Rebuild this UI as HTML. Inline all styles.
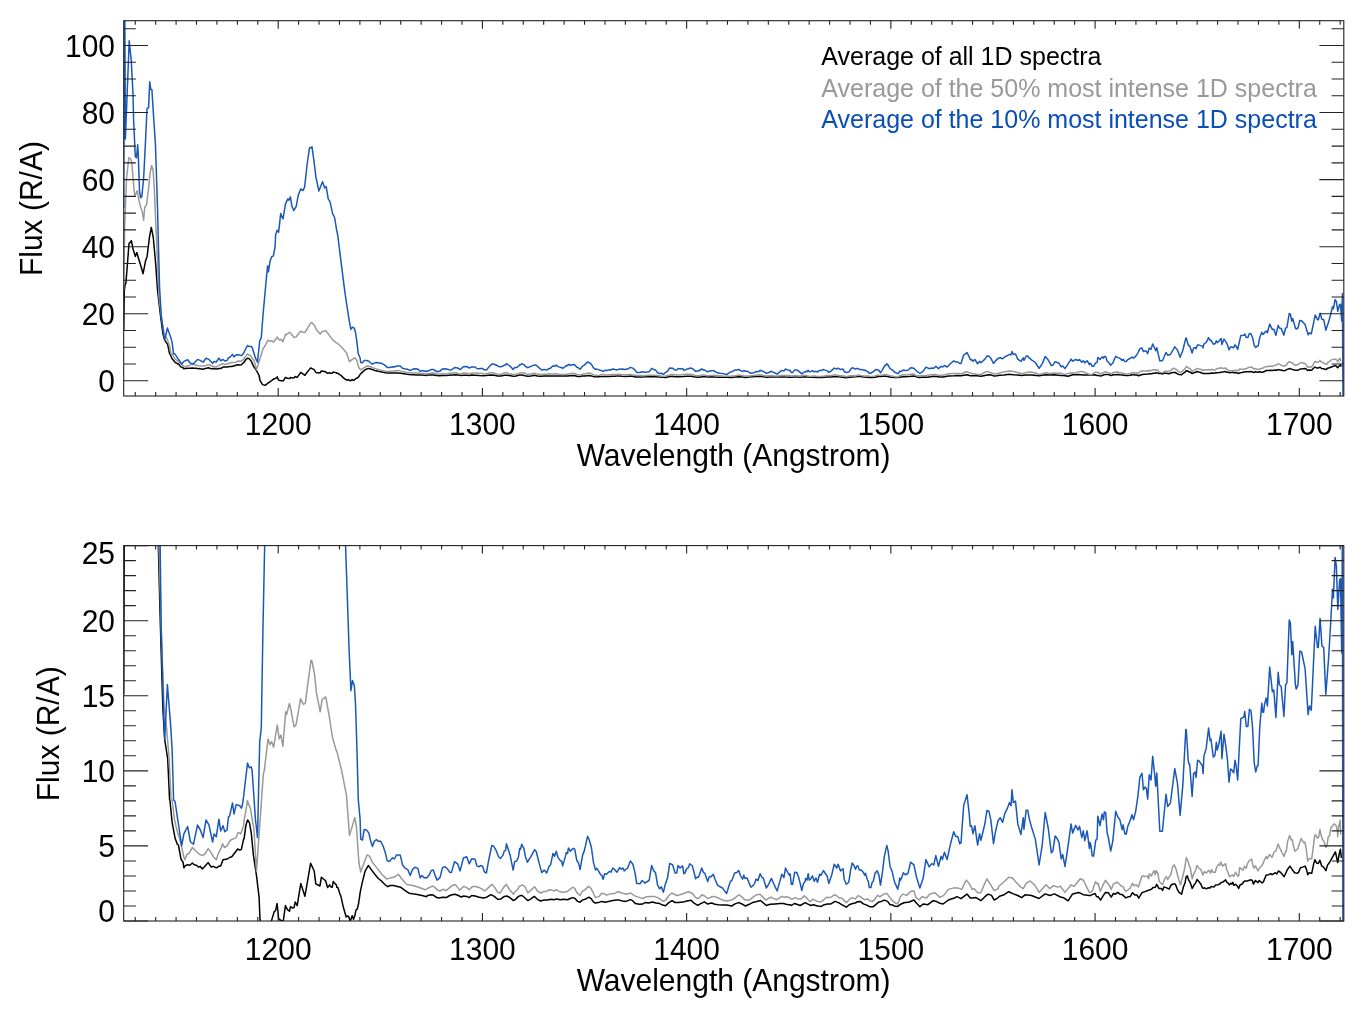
<!DOCTYPE html>
<html><head><meta charset="utf-8"><style>
html,body{margin:0;padding:0;background:#fff;}
svg{display:block;will-change:transform;}
text{font-family:"Liberation Sans",Arial,sans-serif;}
.tl{font-size:30px;fill:#000;}
.lg{font-size:25px;}
</style></head><body>
<svg width="1365" height="1018" viewBox="0 0 1365 1018">
<rect width="1365" height="1018" fill="#fff"/>
<defs><clipPath id="ct"><rect x="123.7" y="20.7" width="1220.1" height="375.3"/></clipPath><clipPath id="cb"><rect x="123.7" y="545.6" width="1220.1" height="375.4"/></clipPath></defs><g clip-path="url(#ct)" fill="none" stroke-linejoin="round"><path d="M123.7 330.2 124.3 291.0 125.1 284.7 125.9 283.1 127.4 264.3 129.0 243.8 131.4 240.7 132.9 248.6 135.3 256.4 136.8 252.5 138.4 258.0 140.8 265.8 143.1 273.7 145.5 261.1 147.1 256.4 149.4 237.6 151.3 227.4 153.3 237.6 155.7 264.3 157.5 290.0 160.4 314.9 162.9 333.7 164.7 340.2 167.7 344.6 169.6 353.8 169.9 353.8 172.1 358.7 175.1 362.3 177.3 363.7 178.4 363.8 181.0 366.9 183.2 367.8 183.9 368.9 185.4 368.4 187.6 368.3 189.8 368.3 192.4 367.9 194.2 368.3 196.4 368.3 198.6 368.8 200.1 368.6 202.3 369.2 204.5 368.7 208.2 367.8 211.2 368.8 213.4 368.6 216.3 368.9 219.3 368.5 220.7 368.5 223.0 367.1 227.4 366.9 229.6 366.6 231.8 366.5 237.7 364.7 239.9 365.0 241.4 364.8 243.6 362.5 244.1 362.4 245.8 359.5 247.3 358.4 247.7 358.2 249.5 358.9 251.3 361.2 253.4 366.1 256.5 370.7 259.1 375.5 260.0 380.4 262.5 384.6 265.0 385.4 268.4 382.9 270.9 381.2 274.2 378.7 275.6 378.5 277.1 376.9 278.7 380.3 281.2 380.7 283.3 380.8 285.4 377.4 287.4 378.3 289.5 378.6 290.5 377.6 292.6 377.9 294.1 377.8 295.2 376.5 297.2 377.4 300.8 372.4 304.9 375.3 310.6 367.9 314.2 369.6 315.8 372.5 319.9 373.0 321.4 371.0 325.6 371.8 327.6 373.3 329.7 372.7 330.0 372.9 331.2 373.2 332.2 373.3 333.2 372.0 335.4 372.6 336.4 372.7 336.8 373.3 337.9 373.3 340.0 374.8 340.8 375.2 343.5 377.9 346.2 379.9 347.6 379.7 348.9 379.9 350.0 380.8 350.8 380.5 352.2 379.6 353.5 380.4 354.9 379.6 355.9 378.4 357.3 378.1 358.6 376.9 360.3 374.2 362.4 372.1 365.1 369.7 368.3 368.4 371.3 369.3 374.8 370.4 378.3 371.3 381.9 372.0 385.4 372.8 387.8 373.1 390.1 372.9 393.7 372.9 398.4 373.1 400.8 373.3 405.5 374.1 409.0 374.6 412.5 374.7 417.3 374.9 422.0 375.1 426.7 375.4 427.5 375.1 430.0 375.0 430.4 374.9 433.3 375.0 436.7 375.6 439.2 375.7 442.5 375.5 446.3 375.6 448.8 375.2 452.1 374.9 455.1 374.8 458.4 375.1 461.3 375.5 463.4 375.2 466.7 375.3 469.2 375.6 471.7 375.1 475.1 375.2 479.3 375.5 483.4 375.7 485.9 375.6 490.9 374.9 494.3 375.3 497.6 376.0 501.0 375.9 504.3 375.3 506.8 375.2 509.3 375.5 513.5 376.2 516.0 375.9 518.5 375.3 521.0 375.1 522.1 375.1 525.0 375.7 527.9 376.2 530.9 375.9 534.2 375.3 537.5 376.0 540.5 376.3 544.2 376.1 547.5 376.1 550.9 376.0 554.2 376.0 556.7 375.9 560.1 376.0 563.4 376.0 567.6 376.0 570.1 375.8 572.6 375.6 575.1 375.8 577.6 376.4 580.1 376.6 582.2 376.1 585.1 376.0 588.9 375.5 591.4 375.9 593.0 376.4 595.1 376.8 598.5 376.7 601.8 376.4 605.1 376.6 608.5 376.4 612.7 376.2 615.0 376.2 616.8 376.1 618.7 376.1 622.3 376.3 626.0 376.4 630.4 376.0 632.6 376.3 635.5 376.9 639.2 377.1 642.8 377.0 645.0 376.7 648.7 376.7 652.4 376.6 656.0 376.7 659.7 376.9 662.6 377.2 665.5 377.4 668.5 376.7 672.1 376.3 675.1 376.7 678.7 376.7 683.1 376.6 686.8 376.3 691.2 376.2 694.1 376.8 697.8 377.3 700.7 376.9 704.4 376.5 707.3 377.0 711.7 376.8 715.0 377.1 718.3 377.2 722.5 377.3 726.7 377.3 731.7 377.4 735.0 377.0 738.8 376.7 742.6 377.1 745.5 377.4 749.2 377.1 752.6 376.7 755.9 376.5 760.5 376.2 763.4 376.8 766.3 377.3 770.1 377.1 775.1 377.0 780.1 376.9 783.5 376.9 786.0 377.1 788.5 377.2 790.1 377.2 791.4 377.3 794.3 376.9 796.8 377.1 800.2 377.3 805.2 376.7 807.5 377.0 810.8 377.3 813.3 377.2 817.5 377.4 821.3 377.5 824.2 377.2 827.5 377.0 830.9 377.0 835.1 376.4 838.4 376.7 842.6 377.3 846.3 377.7 849.2 377.2 852.6 376.9 855.1 376.8 857.6 376.5 860.5 376.5 863.4 377.0 866.8 377.3 870.1 377.6 873.0 377.6 876.0 377.1 878.5 376.6 881.4 376.4 884.3 376.1 887.6 376.4 890.1 377.2 891.8 377.2 894.3 377.4 897.7 377.5 900.0 377.2 900.6 377.1 904.0 376.7 909.3 376.6 913.9 376.1 916.6 376.9 919.9 377.6 923.2 377.0 927.9 377.2 933.2 376.3 936.5 376.4 939.8 376.9 943.1 377.0 948.4 376.1 954.4 375.7 957.0 375.4 961.0 375.8 967.0 374.8 970.3 375.7 972.9 375.7 975.6 375.5 980.9 376.3 984.9 375.4 988.2 374.8 991.5 375.1 994.2 376.1 996.8 375.8 999.6 375.3 1004.1 374.9 1008.7 374.2 1013.3 374.8 1017.8 375.1 1021.6 375.6 1025.4 374.9 1031.5 375.1 1039.1 375.8 1045.2 374.8 1049.8 375.1 1054.4 374.8 1060.4 375.4 1063.5 375.6 1068.1 376.3 1072.6 374.8 1078.7 374.4 1083.3 374.9 1089.4 375.1 1090.0 375.1 1092.2 374.9 1095.1 374.7 1096.6 375.4 1098.1 375.4 1100.6 376.1 1102.8 375.3 1105.4 374.4 1108.3 374.5 1111.2 375.5 1113.4 374.7 1115.3 374.8 1117.8 374.4 1120.0 374.8 1122.2 374.9 1125.9 375.6 1128.1 375.4 1130.3 375.3 1132.5 374.5 1134.7 375.0 1136.9 375.0 1138.7 375.7 1142.0 374.5 1144.9 374.2 1147.9 374.0 1150.1 373.8 1151.5 373.7 1153.0 373.3 1155.2 373.3 1156.7 372.6 1158.9 373.5 1161.4 373.5 1162.5 374.0 1164.0 373.2 1166.2 373.3 1169.1 373.7 1171.3 372.7 1173.5 372.5 1175.3 372.5 1177.2 373.7 1179.0 374.4 1181.6 374.8 1183.4 373.2 1185.2 372.2 1186.0 371.0 1187.1 370.7 1187.4 370.8 1188.5 371.5 1190.2 372.2 1192.2 373.5 1193.9 372.8 1195.7 372.3 1197.0 371.5 1198.8 372.0 1200.8 372.5 1202.2 373.3 1203.2 373.5 1204.6 373.4 1206.3 373.6 1208.0 373.4 1209.8 373.5 1211.5 373.1 1213.9 373.2 1215.6 372.8 1217.7 372.7 1219.4 372.6 1221.1 372.2 1222.5 372.1 1225.6 371.6 1227.0 372.2 1228.0 372.3 1229.4 372.8 1230.7 372.4 1231.8 372.5 1232.8 372.1 1233.8 372.8 1235.6 372.6 1237.3 373.0 1238.7 373.5 1240.0 372.8 1242.1 372.5 1244.2 371.9 1245.5 371.8 1247.6 371.8 1249.3 371.7 1251.0 371.6 1252.4 371.8 1253.4 372.5 1255.5 371.8 1257.9 372.2 1259.3 371.8 1262.0 372.3 1263.4 372.1 1266.2 370.5 1268.8 370.5 1270.8 370.2 1272.1 370.5 1275.4 370.0 1276.8 370.3 1278.4 369.6 1280.1 369.9 1282.0 370.3 1284.0 370.9 1285.3 370.4 1287.3 369.4 1289.9 368.5 1292.3 369.4 1294.6 370.0 1297.2 370.2 1298.5 369.9 1300.5 368.9 1302.5 368.8 1305.1 368.5 1306.4 369.2 1307.7 370.5 1309.1 370.0 1311.7 370.2 1313.7 368.0 1315.0 367.1 1316.6 367.9 1318.3 368.0 1319.9 367.2 1321.6 368.5 1323.6 368.8 1325.9 369.6 1327.5 368.3 1329.5 367.7 1332.1 366.7 1335.4 365.4 1337.7 367.7 1339.1 366.0 1340.4 364.8 1341.4 366.7" stroke="#000" stroke-width="1.5"/><path d="M123.7 290.0 124.7 226.0 126.5 179.0 128.8 157.7 130.6 158.9 131.8 162.5 133.6 184.9 134.7 195.5 135.9 194.3 137.1 190.8 137.7 193.1 138.9 200.2 140.6 207.3 142.4 212.0 143.6 220.2 144.8 207.3 146.5 204.9 148.3 190.8 150.1 173.1 151.6 165.4 153.0 169.5 154.2 186.0 155.4 214.3 156.6 240.0 158.5 285.0 159.0 297.0 161.5 318.1 164.0 332.6 166.7 338.0 169.2 344.6 171.1 353.8 172.1 353.8 174.3 357.9 176.5 360.2 179.5 362.3 181.7 364.3 183.9 366.6 185.0 367.1 186.8 366.0 189.1 365.6 192.4 364.4 195.7 365.1 198.6 365.8 201.6 366.1 204.5 366.0 208.2 364.6 210.4 365.3 213.4 366.5 216.3 367.1 218.5 365.6 221.5 364.3 222.6 363.6 224.4 364.4 227.4 364.0 230.3 362.7 236.2 362.2 238.1 361.0 240.0 361.2 240.6 361.4 243.6 359.5 244.1 358.2 245.8 356.2 247.5 353.9 248.0 354.4 250.3 355.5 254.0 360.5 256.5 369.7 260.1 358.2 263.3 348.0 264.3 347.2 268.0 340.1 269.9 341.4 271.7 340.8 273.6 342.0 277.3 337.0 279.2 340.1 281.0 339.3 282.9 341.8 285.7 334.1 286.6 334.7 289.4 332.2 290.4 333.1 294.1 337.4 296.0 337.0 300.6 331.2 303.4 332.4 305.3 332.2 310.9 322.6 311.8 322.6 314.6 325.8 316.5 329.9 320.2 334.1 322.1 331.4 325.8 330.8 329.6 335.6 332.4 339.7 336.1 342.6 337.0 343.0 341.5 347.0 346.5 352.7 349.5 361.7 354.8 357.7 356.5 359.8 358.9 367.7 360.7 369.9 364.2 367.7 367.1 366.0 369.5 366.3 372.5 367.7 377.2 369.1 381.9 370.4 386.6 371.4 390.1 371.2 393.7 371.0 398.4 370.4 401.9 371.4 406.7 372.6 412.5 372.9 417.3 373.1 422.0 373.5 425.0 373.8 426.7 373.7 427.5 373.5 430.0 373.3 432.5 373.0 435.0 373.3 437.5 373.9 440.0 374.1 442.9 373.7 446.3 374.0 448.8 373.5 451.7 373.0 453.8 372.7 455.9 372.8 459.6 373.9 463.8 373.1 466.7 373.3 469.2 373.8 472.6 373.1 475.1 373.1 478.4 373.3 481.8 373.6 484.7 374.1 488.4 373.3 491.8 372.6 494.3 373.2 497.6 374.4 500.1 374.6 503.5 373.3 506.4 372.6 509.3 373.7 513.5 374.8 514.7 374.4 517.7 373.7 519.3 373.1 521.8 372.8 522.5 372.8 525.0 373.2 527.9 374.6 530.9 373.9 534.6 373.2 537.5 374.1 540.9 374.6 544.2 374.2 546.7 374.2 549.2 373.8 551.7 373.9 554.2 374.1 555.9 373.8 559.2 374.2 562.6 374.4 566.7 374.3 570.1 373.7 572.6 373.3 574.7 373.5 576.8 374.5 580.1 375.1 582.6 374.1 584.7 373.9 588.4 373.1 591.0 373.5 593.5 374.6 595.5 375.6 599.3 375.3 601.4 374.6 603.5 374.6 606.8 375.0 610.2 374.7 613.5 374.6 615.0 374.6 616.8 374.4 618.3 374.3 621.7 374.6 626.7 374.8 630.4 374.6 632.9 374.9 635.9 375.3 640.0 375.6 643.0 375.8 645.9 375.4 650.1 375.3 654.2 375.3 657.6 375.6 660.5 376.0 663.4 376.4 665.9 376.1 668.4 375.2 671.8 374.6 674.3 374.8 676.8 375.1 680.1 374.9 683.4 374.6 688.5 374.3 692.6 374.6 695.1 375.5 697.6 375.8 699.7 375.6 701.8 374.9 704.7 375.2 707.7 375.8 710.0 375.6 711.8 375.4 714.2 375.3 718.3 375.7 722.5 376.1 726.7 376.3 731.7 376.1 735.0 375.7 738.8 374.9 741.7 375.4 745.1 376.1 749.2 376.1 753.4 375.4 756.7 374.9 760.1 374.8 763.4 375.6 765.9 376.1 768.4 375.8 770.9 375.5 773.4 375.8 776.8 376.0 779.3 375.7 781.8 375.3 784.3 375.5 786.8 375.4 789.3 375.6 791.8 376.0 795.1 375.6 798.5 375.9 801.0 375.9 804.3 375.2 806.7 375.7 809.2 376.3 810.8 376.4 812.5 376.0 815.0 376.1 817.5 376.4 820.9 376.5 824.2 376.0 826.7 375.5 829.2 375.6 831.3 375.5 834.2 374.9 836.3 375.1 839.2 375.7 841.7 375.7 843.8 376.1 846.3 376.7 849.2 376.0 852.2 375.6 855.1 375.9 858.4 375.1 860.9 375.5 864.3 376.0 867.6 375.9 870.1 376.3 872.6 376.4 875.1 375.9 877.6 375.0 879.7 375.4 883.5 374.8 886.8 374.6 889.3 375.4 891.8 376.1 895.2 376.8 897.7 377.0 900.0 375.5 902.7 374.8 906.6 375.1 910.6 374.2 913.9 374.0 915.9 375.5 919.2 376.1 921.9 375.4 926.5 375.7 929.8 374.8 935.1 374.5 939.8 375.5 943.8 375.1 948.4 373.7 953.1 373.5 958.4 373.5 961.7 373.7 966.3 371.7 969.0 372.4 972.3 373.7 974.3 373.6 977.6 374.5 980.9 374.5 983.6 373.0 986.9 371.4 991.5 373.0 994.2 374.0 998.1 373.6 998.8 373.1 1004.1 372.0 1008.7 371.0 1012.5 371.2 1016.3 372.2 1020.9 373.2 1023.2 373.6 1026.2 372.4 1030.0 371.9 1034.6 372.7 1039.1 374.4 1046.0 372.7 1049.8 373.6 1053.6 372.9 1057.4 373.2 1060.4 373.1 1065.0 374.4 1071.1 372.7 1074.1 373.1 1080.2 371.4 1083.3 371.7 1087.1 373.4 1089.4 374.4 1090.0 374.5 1092.2 374.2 1095.5 372.0 1097.3 372.5 1098.1 372.4 1100.3 374.2 1103.2 372.7 1105.4 371.7 1107.6 372.4 1109.4 372.9 1111.2 373.8 1113.4 372.5 1117.1 372.1 1119.3 372.5 1121.5 373.0 1123.3 373.2 1125.5 374.2 1128.1 373.8 1130.3 373.4 1132.5 372.4 1134.0 372.9 1136.2 372.7 1138.4 373.2 1142.0 370.7 1144.9 370.9 1147.1 370.7 1148.6 371.4 1149.3 370.2 1151.5 370.7 1153.4 369.7 1154.5 369.6 1155.2 370.5 1156.3 369.6 1157.8 370.1 1159.2 371.9 1160.7 372.4 1162.5 372.7 1164.7 371.4 1166.2 370.9 1167.7 371.5 1169.1 371.0 1170.6 370.6 1172.8 368.6 1174.2 368.3 1176.1 369.3 1177.9 370.9 1180.5 372.7 1182.3 371.2 1184.5 369.3 1186.3 366.6 1187.8 367.3 1188.2 367.6 1189.1 368.4 1190.2 368.8 1192.2 371.4 1193.6 370.4 1195.7 369.5 1197.0 368.4 1198.8 369.0 1200.8 369.3 1202.9 370.5 1204.3 369.8 1206.3 370.1 1208.7 369.5 1210.5 370.1 1211.5 369.3 1212.9 369.9 1215.3 369.9 1216.3 369.0 1218.7 368.1 1219.7 368.4 1220.8 367.6 1222.5 368.5 1225.6 368.0 1226.6 369.3 1228.0 369.9 1229.4 370.9 1232.5 370.5 1233.8 370.8 1235.6 369.9 1238.0 370.8 1238.7 370.7 1239.7 368.8 1241.4 369.2 1243.1 369.5 1244.5 368.5 1246.2 369.0 1247.6 367.9 1249.3 367.3 1251.7 367.0 1253.1 368.5 1254.1 369.0 1255.5 368.5 1257.9 369.6 1259.6 369.0 1262.3 368.3 1263.4 367.8 1263.9 367.4 1266.2 366.4 1267.2 366.9 1269.5 366.0 1272.1 366.6 1274.1 365.4 1276.1 365.2 1278.1 363.6 1280.1 364.6 1282.0 365.5 1284.0 366.4 1285.7 365.2 1286.3 365.2 1287.6 363.0 1289.6 361.7 1291.3 362.7 1292.3 362.7 1293.2 363.8 1294.9 365.2 1297.9 364.6 1299.2 363.6 1301.2 362.4 1303.5 363.3 1304.8 363.2 1306.1 364.5 1307.7 367.4 1309.1 366.8 1311.7 366.9 1313.0 364.8 1314.7 361.7 1315.7 361.5 1317.3 362.3 1318.6 362.1 1319.9 360.4 1320.9 361.5 1322.6 362.6 1323.9 363.0 1325.9 364.3 1326.9 364.1 1328.2 362.0 1329.5 361.8 1330.8 360.1 1334.1 359.1 1336.1 359.5 1337.4 360.7 1337.7 362.0 1338.4 360.1 1340.1 358.3 1340.7 361.5" stroke="#999" stroke-width="1.5"/><path d="M123.7 208.0 124.3 15.0 124.8 15.0 125.4 139.0 129.2 40.7 131.3 61.2 133.0 93.6 133.6 120.0 134.7 143.6 135.3 156.6 136.5 157.7 137.7 144.8 138.3 155.4 139.5 190.8 140.6 197.8 141.8 196.7 143.6 179.0 145.4 143.6 146.5 120.0 147.0 108.7 148.6 107.6 149.7 81.7 150.8 89.3 151.9 89.8 153.5 115.2 155.4 143.6 156.6 179.0 157.7 214.3 158.3 240.0 159.6 287.8 161.2 314.9 163.5 333.7 164.7 340.2 167.4 328.0 170.6 336.9 172.1 342.4 173.6 353.8 175.1 354.1 177.3 357.6 179.5 360.7 181.7 364.0 183.9 361.4 187.6 359.7 190.5 363.2 193.5 363.7 197.5 359.4 200.1 360.4 203.1 362.2 206.0 358.2 209.0 359.4 212.6 363.2 214.1 361.4 216.3 362.0 218.9 358.1 220.7 360.7 223.0 359.5 224.8 360.9 227.0 360.5 228.5 357.6 229.6 357.4 232.5 354.4 234.0 356.9 236.2 354.8 240.0 355.1 241.4 355.6 241.9 355.3 243.2 353.8 247.5 345.5 249.3 346.6 251.2 346.4 252.1 347.2 255.5 358.2 257.5 362.2 259.7 340.8 261.3 337.6 262.9 316.2 263.3 311.8 265.9 283.5 267.6 265.9 268.4 271.8 270.1 260.9 271.7 256.7 273.4 255.9 275.1 246.7 275.6 235.0 277.1 230.3 278.6 232.3 280.7 213.6 283.0 219.0 285.5 203.8 287.9 198.9 288.9 200.3 290.4 196.9 291.8 205.7 293.8 210.6 296.3 206.2 298.2 195.4 300.7 189.0 303.1 190.5 304.6 187.1 307.1 164.5 309.5 147.8 311.0 147.8 312.0 146.8 313.9 160.5 315.9 177.2 318.9 191.0 320.8 186.1 322.6 181.7 324.7 188.0 326.2 186.6 328.2 198.9 330.1 201.8 332.6 213.6 334.6 217.5 336.5 229.3 337.7 235.0 340.2 255.1 342.7 275.1 345.3 295.2 349.1 320.2 350.9 329.4 352.5 327.1 354.3 328.2 355.5 332.2 356.8 341.3 358.3 353.8 360.1 358.0 360.7 362.5 362.4 362.7 364.2 360.4 366.6 360.5 368.9 361.2 370.7 363.0 372.5 364.2 374.2 363.0 376.6 362.6 378.3 363.0 380.7 363.0 383.1 364.1 385.4 365.6 387.2 367.4 389.6 367.5 392.5 366.7 394.3 367.0 396.6 366.0 400.2 366.0 402.5 368.3 405.5 369.1 407.8 369.3 410.2 370.6 412.5 369.3 414.9 368.8 417.9 369.1 420.2 371.2 422.0 370.6 424.3 371.2 425.0 371.1 426.7 371.2 429.2 370.5 430.0 370.1 431.3 369.5 433.3 369.4 435.0 370.5 437.1 371.7 440.0 371.1 442.5 368.9 445.0 368.7 447.5 369.2 449.6 369.9 451.3 370.0 454.6 367.6 457.6 368.0 460.1 369.6 463.4 366.7 466.7 366.4 469.2 368.0 471.7 366.9 475.1 367.0 476.8 368.5 479.3 368.7 480.5 368.4 482.6 368.6 484.3 369.8 486.4 370.1 488.4 367.6 491.8 363.9 493.4 364.0 496.0 365.0 498.5 366.4 500.5 366.8 503.0 366.1 504.3 365.1 505.6 365.1 506.4 363.6 508.5 365.0 510.1 366.1 513.1 369.4 514.7 367.6 516.8 367.4 518.5 366.4 519.7 364.6 520.0 364.6 520.6 364.8 521.7 363.7 523.3 364.4 523.9 364.6 525.4 366.4 527.5 367.7 530.9 366.4 534.6 364.9 536.3 365.3 539.2 367.9 541.7 370.0 544.2 369.4 546.7 370.1 549.2 368.5 550.5 368.3 553.0 365.7 554.6 366.4 556.3 365.2 558.0 366.6 560.5 367.4 561.7 367.4 562.6 368.5 565.1 366.6 566.3 365.5 567.6 365.7 568.4 364.5 570.5 365.2 571.3 365.0 573.4 364.6 574.7 364.8 576.8 367.3 578.4 367.8 580.1 369.3 582.6 366.1 584.3 365.1 587.6 361.9 589.3 362.7 591.4 364.4 593.5 367.8 595.5 369.4 596.8 369.1 598.5 369.6 600.6 370.5 601.8 370.5 603.1 371.5 604.7 370.3 606.4 370.4 608.5 369.9 610.2 369.7 611.0 369.9 612.7 369.0 614.3 369.2 615.0 369.4 617.1 369.9 619.6 368.9 621.3 369.2 622.9 369.0 624.2 369.6 625.9 369.2 627.5 369.1 628.8 368.3 630.4 367.4 632.9 368.1 635.0 370.0 636.7 372.4 638.4 372.4 640.0 372.5 642.1 371.8 644.6 372.3 647.1 372.0 649.2 371.7 651.7 368.4 653.8 369.6 655.5 370.0 657.6 372.8 659.7 373.6 661.3 373.2 663.4 374.4 665.1 372.8 667.6 371.1 669.7 367.9 672.6 368.2 675.1 370.1 676.8 370.1 678.0 368.4 680.1 369.0 682.6 368.5 683.9 370.3 685.1 370.0 686.8 369.1 688.5 368.9 689.7 368.0 692.2 368.4 693.9 369.8 695.6 371.4 696.8 371.0 698.5 371.0 701.8 369.0 703.5 370.0 704.7 370.1 707.7 371.9 709.3 370.9 711.0 370.9 711.7 370.7 713.1 370.5 713.3 370.4 715.0 371.5 717.5 372.8 720.0 373.2 722.5 373.4 724.6 374.1 726.7 374.6 728.4 373.3 730.5 371.9 732.1 371.7 734.6 370.1 736.7 370.0 738.8 369.5 740.5 370.6 742.6 371.5 743.8 370.5 745.1 371.3 747.1 371.2 749.2 372.4 750.9 373.2 753.4 372.8 754.7 372.4 755.9 371.5 758.0 371.8 760.1 370.3 761.8 371.0 763.4 371.3 766.3 373.4 768.8 372.5 771.4 371.3 773.4 372.3 775.5 373.3 777.2 374.1 779.3 372.4 781.8 370.4 783.9 371.1 785.5 369.0 787.6 369.9 789.3 370.5 790.1 370.3 791.4 372.6 792.6 372.6 794.7 369.9 796.8 370.0 798.5 370.9 800.2 372.4 801.8 374.0 803.5 372.4 805.0 372.0 805.6 371.3 806.3 371.4 806.8 371.7 807.1 371.7 808.1 370.3 808.3 370.3 809.2 371.7 810.8 371.4 812.5 370.7 814.2 371.9 815.9 371.2 817.5 372.1 819.6 370.4 820.9 370.6 823.4 369.5 825.0 370.1 827.1 370.7 828.8 372.4 831.7 370.5 834.2 368.1 836.7 369.0 838.0 368.1 839.2 368.8 840.5 369.6 843.0 369.1 844.2 371.5 846.3 372.6 848.8 372.1 850.5 369.6 852.2 367.8 853.8 368.3 855.5 369.2 856.8 368.5 858.0 368.5 859.3 369.4 861.3 369.4 863.4 370.0 864.7 370.5 865.5 370.2 867.2 371.5 868.4 372.0 869.3 373.3 870.9 373.3 872.2 372.1 873.4 371.8 875.1 370.1 877.2 369.6 878.9 370.5 880.5 372.8 882.6 369.6 884.3 366.4 886.8 363.9 888.1 365.1 890.1 368.7 892.2 369.8 893.5 371.1 894.7 372.2 896.0 372.8 897.7 373.7 898.9 372.6 899.7 371.2 900.0 371.8 901.4 371.3 903.3 370.0 905.3 370.5 908.0 370.2 910.6 367.7 913.9 368.3 916.6 371.1 919.9 373.5 923.2 371.2 925.9 367.1 929.2 368.7 931.8 368.0 933.8 368.3 935.8 366.2 938.5 368.6 941.1 366.3 942.4 367.1 944.4 365.5 947.1 367.1 950.4 363.7 953.7 360.9 955.7 361.9 957.7 361.9 959.7 363.5 961.0 363.4 963.7 354.9 965.0 354.1 967.0 352.6 969.0 356.4 970.3 359.7 971.6 359.5 972.9 361.3 974.9 359.5 977.6 363.8 979.6 361.3 980.9 362.8 984.9 359.1 986.9 356.1 988.9 356.3 990.8 358.2 993.5 363.5 995.5 360.9 997.3 359.1 998.1 358.3 1000.3 357.8 1002.6 358.8 1004.9 356.7 1007.2 355.7 1009.5 354.4 1011.0 355.0 1012.0 351.5 1013.3 354.4 1015.5 354.0 1017.8 359.1 1020.9 361.5 1023.2 357.8 1023.9 360.3 1026.2 356.1 1027.7 356.1 1029.2 357.9 1031.5 359.8 1035.3 362.5 1039.1 368.3 1042.2 363.9 1045.2 356.6 1048.3 360.1 1051.3 365.6 1052.8 365.2 1055.1 361.8 1056.6 362.2 1058.9 363.2 1061.2 366.9 1062.7 365.9 1065.0 368.6 1067.3 365.2 1071.1 359.1 1072.6 361.2 1075.7 359.5 1078.0 360.5 1079.5 359.6 1081.8 362.2 1083.3 360.7 1084.8 362.9 1087.1 360.7 1089.4 364.6 1090.0 363.3 1090.9 363.9 1092.1 366.2 1092.4 366.3 1093.6 366.3 1095.7 362.8 1097.1 362.5 1097.8 357.4 1100.0 359.5 1102.1 356.9 1103.5 358.2 1104.3 356.4 1105.7 356.6 1107.1 361.1 1108.5 362.3 1110.7 365.2 1112.8 363.0 1115.7 356.3 1117.8 357.6 1119.9 358.2 1122.1 360.4 1123.1 359.3 1124.9 361.4 1126.3 361.4 1127.8 359.6 1129.9 358.5 1132.0 357.1 1133.5 358.2 1135.6 356.4 1137.7 353.3 1139.9 348.6 1142.0 347.9 1143.4 351.5 1144.9 350.9 1146.3 351.2 1147.7 353.6 1149.2 348.1 1151.0 349.3 1152.7 344.0 1154.5 347.8 1155.7 350.7 1156.8 347.8 1159.8 360.8 1162.4 360.8 1166.0 352.5 1167.7 355.2 1170.4 354.5 1174.8 346.8 1177.5 350.1 1180.1 357.2 1182.8 350.5 1185.8 338.1 1186.3 338.1 1188.1 344.7 1188.9 345.8 1189.7 345.8 1192.1 353.0 1193.6 347.9 1195.2 347.5 1196.0 348.8 1197.6 344.9 1199.1 345.1 1200.7 345.6 1202.3 346.1 1203.1 347.9 1203.9 344.0 1206.2 342.3 1208.6 337.7 1210.1 340.5 1210.9 340.2 1213.3 344.2 1214.9 343.8 1216.4 340.9 1217.2 342.6 1218.8 341.4 1221.1 338.4 1221.9 344.6 1224.0 339.1 1225.9 341.9 1227.4 344.7 1229.0 349.8 1230.6 346.8 1232.2 347.2 1233.7 347.7 1235.0 344.9 1236.1 346.1 1237.7 349.3 1239.2 342.6 1240.8 335.6 1243.9 335.3 1244.7 334.0 1246.3 337.4 1247.9 337.4 1249.4 333.5 1251.0 333.8 1252.6 337.7 1254.2 345.4 1255.7 347.5 1257.3 346.1 1258.1 346.1 1259.7 337.7 1261.8 332.2 1262.7 334.2 1263.6 334.2 1264.4 332.6 1266.2 331.0 1267.4 332.8 1269.7 324.1 1272.4 329.6 1273.8 329.2 1275.9 335.3 1278.2 325.3 1279.4 328.0 1281.2 328.4 1283.9 335.1 1285.6 328.0 1286.9 327.6 1289.2 313.6 1290.4 314.2 1291.8 321.3 1292.7 318.4 1295.4 328.0 1296.2 329.0 1298.0 328.0 1299.8 320.5 1301.6 320.7 1305.1 324.5 1308.1 334.7 1309.5 332.8 1311.3 333.8 1315.2 315.0 1317.5 319.7 1318.3 319.7 1320.1 313.2 1321.9 319.3 1323.7 319.7 1325.8 330.2 1328.6 322.1 1330.7 314.2 1332.5 306.7 1333.4 308.7 1335.1 299.6 1336.4 301.6 1337.8 311.3 1339.6 304.7 1340.5 304.3 1341.7 320.9 1342.4 293.6 1343.1 421.0" stroke="#1a58b8" stroke-width="1.5"/></g><g clip-path="url(#cb)" fill="none" stroke-linejoin="round"><path d="M123.7 694.4 124.3 518.8 125.1 490.6 125.9 483.5 127.4 399.3 129.0 307.5 131.4 293.6 132.9 329.0 135.3 363.9 136.8 346.4 138.4 371.1 140.8 406.0 143.1 441.4 145.5 384.9 147.1 363.9 149.4 279.7 151.3 234.0 153.3 279.7 155.7 399.3 157.5 514.4 160.4 626.0 162.9 710.0 164.7 739.3 167.7 759.0 169.6 800.0 169.9 800.0 172.1 822.1 175.1 838.3 177.3 844.2 178.4 845.0 181.0 859.0 183.2 862.6 183.9 867.8 185.4 865.6 187.6 864.8 189.8 865.2 192.4 863.0 194.2 864.8 196.4 865.2 198.6 867.1 200.1 866.3 202.3 868.9 204.5 866.7 208.2 862.6 211.2 867.1 213.4 866.3 216.3 867.8 219.3 866.0 220.7 866.0 223.0 859.7 227.4 859.0 229.6 857.5 231.8 856.7 237.7 849.0 239.9 850.1 241.4 849.4 243.6 839.1 244.1 838.6 245.8 825.8 247.3 820.6 247.7 820.0 249.5 822.8 251.3 833.4 253.4 855.1 256.5 875.7 259.1 897.3 260.0 919.2 262.5 938.0 265.0 941.6 268.4 930.4 270.9 922.8 274.2 911.6 275.6 910.7 277.1 903.5 278.7 919.0 281.2 920.5 283.3 921.0 285.4 905.6 287.4 909.7 289.5 911.2 290.5 906.6 292.6 908.1 294.1 907.6 295.2 902.0 297.2 905.6 300.8 883.4 304.9 896.3 310.6 863.3 314.2 871.0 315.8 883.9 319.9 886.0 321.4 877.2 325.6 880.8 327.6 887.5 329.7 884.9 330.0 885.7 331.2 887.0 332.2 887.3 333.2 881.6 335.4 884.1 336.4 884.9 336.8 887.3 337.9 887.5 340.0 894.2 340.8 895.9 343.5 907.8 346.2 917.0 347.6 915.9 348.9 917.0 350.0 920.8 350.8 919.7 352.2 915.7 353.5 919.2 354.9 915.4 355.9 910.3 357.3 908.9 358.6 903.5 360.3 891.6 362.4 881.9 365.1 871.1 368.3 865.5 371.3 869.6 374.8 874.3 378.3 878.5 381.9 881.4 385.4 885.0 387.8 886.7 390.1 885.5 393.7 885.5 398.4 886.7 400.8 887.3 405.5 890.8 409.0 893.2 412.5 893.8 417.3 894.4 422.0 895.6 426.7 896.7 427.5 895.5 430.0 895.0 430.4 894.7 433.3 895.1 436.7 897.6 439.2 898.0 442.5 897.2 446.3 897.6 448.8 896.0 452.1 894.7 455.1 894.3 458.4 895.5 461.3 897.2 463.4 896.0 466.7 896.4 469.2 897.6 471.7 895.5 475.1 896.0 479.3 897.2 483.4 898.0 485.9 897.6 490.9 894.7 494.3 896.4 497.6 899.3 501.0 898.9 504.3 896.4 506.8 896.0 509.3 897.2 513.5 900.6 516.0 898.9 518.5 896.4 521.0 895.5 522.1 895.5 525.0 898.0 527.9 900.6 530.9 898.9 534.2 896.4 537.5 899.3 540.5 901.0 544.2 900.1 547.5 900.1 550.9 899.3 554.2 899.7 556.7 898.9 560.1 899.7 563.4 899.3 567.6 899.7 570.1 898.5 572.6 897.6 575.1 898.5 577.6 901.4 580.1 902.2 582.2 900.1 585.1 899.3 588.9 897.2 591.4 898.9 593.0 901.4 595.1 903.1 598.5 902.6 601.8 901.4 605.1 902.2 608.5 901.4 612.7 900.6 615.0 900.3 616.8 900.1 618.7 899.9 622.3 901.0 626.0 901.4 630.4 899.6 632.6 900.7 635.5 903.6 639.2 904.3 642.8 904.0 645.0 902.5 648.7 902.9 652.4 902.1 656.0 902.9 659.7 903.6 662.6 905.1 665.5 905.8 668.5 902.9 672.1 900.7 675.1 902.5 678.7 902.5 683.1 902.1 686.8 901.0 691.2 900.3 694.1 903.2 697.8 905.4 700.7 903.6 704.4 901.8 707.3 904.0 711.7 903.0 715.0 904.3 718.3 904.7 722.5 905.1 726.7 905.1 731.7 906.0 735.0 903.9 738.8 902.6 742.6 904.3 745.5 906.0 749.2 904.3 752.6 902.6 755.9 901.8 760.5 900.5 763.4 903.0 766.3 905.5 770.1 904.3 775.1 903.9 780.1 903.5 783.5 903.5 786.0 904.3 788.5 904.7 790.1 904.7 791.4 905.5 794.3 903.5 796.8 904.3 800.2 905.5 805.2 902.6 807.5 903.9 810.8 905.5 813.3 904.7 817.5 906.0 821.3 906.4 824.2 904.7 827.5 903.9 830.9 903.9 835.1 901.4 838.4 902.6 842.6 905.1 846.3 907.2 849.2 904.7 852.6 903.5 855.1 903.0 857.6 901.8 860.5 901.6 863.4 903.9 866.8 905.1 870.1 906.8 873.0 906.8 876.0 904.3 878.5 902.2 881.4 901.4 884.3 900.1 887.6 901.4 890.1 904.7 891.8 904.7 894.3 906.0 897.7 906.4 900.0 904.7 900.6 904.3 904.0 902.7 909.3 902.0 913.9 900.0 916.6 903.3 919.9 906.7 923.2 904.0 927.9 904.7 933.2 900.7 936.5 901.4 939.8 903.3 943.1 904.0 948.4 900.0 954.4 898.0 957.0 896.7 961.0 898.7 967.0 894.1 970.3 898.0 972.9 898.0 975.6 897.4 980.9 900.7 984.9 896.7 988.2 894.1 991.5 895.4 994.2 900.0 996.8 898.7 999.6 896.2 1004.1 894.7 1008.7 891.7 1013.3 893.9 1017.8 895.5 1021.6 897.7 1025.4 894.7 1031.5 895.5 1039.1 898.5 1045.2 893.9 1049.8 895.5 1054.4 893.9 1060.4 897.0 1063.5 897.7 1068.1 900.8 1072.6 893.9 1078.7 892.4 1083.3 894.7 1089.4 895.5 1090.0 895.7 1092.2 894.6 1095.1 893.5 1096.6 896.8 1098.1 896.8 1100.6 900.1 1102.8 896.4 1105.4 892.4 1108.3 892.7 1111.2 897.1 1113.4 893.5 1115.3 894.2 1117.8 892.4 1120.0 894.2 1122.2 894.6 1125.9 897.9 1128.1 896.8 1130.3 896.4 1132.5 892.7 1134.7 894.9 1136.9 894.9 1138.7 898.2 1142.0 892.7 1144.9 891.6 1147.9 890.5 1150.1 889.8 1151.5 889.1 1153.0 887.6 1155.2 887.3 1156.7 884.3 1158.9 888.4 1161.4 888.4 1162.5 890.5 1164.0 886.9 1166.2 887.6 1169.1 889.1 1171.3 884.7 1173.5 884.0 1175.3 884.0 1177.2 889.1 1179.0 892.4 1181.6 894.2 1183.4 886.9 1185.2 882.5 1186.0 877.1 1187.1 875.9 1187.4 876.4 1188.5 879.6 1190.2 882.6 1192.2 888.4 1193.9 885.3 1195.7 882.9 1197.0 879.5 1198.8 881.6 1200.8 884.0 1202.2 887.4 1203.2 888.4 1204.6 887.8 1206.3 888.8 1208.0 887.8 1209.8 888.1 1211.5 886.4 1213.9 887.1 1215.6 885.0 1217.7 884.7 1219.4 884.3 1221.1 882.6 1222.5 882.3 1225.6 879.8 1227.0 882.6 1228.0 882.9 1229.4 885.0 1230.7 883.3 1231.8 884.0 1232.8 882.3 1233.8 885.3 1235.6 884.3 1237.3 886.0 1238.7 888.4 1240.0 885.0 1242.1 884.0 1244.2 881.2 1245.5 880.9 1247.6 880.9 1249.3 880.2 1251.0 879.8 1252.4 880.5 1253.4 884.0 1255.5 880.5 1257.9 882.6 1259.3 880.5 1262.0 882.9 1263.4 881.9 1266.2 875.0 1268.8 874.7 1270.8 873.7 1272.1 874.7 1275.4 872.7 1276.8 874.0 1278.4 871.0 1280.1 872.0 1282.0 874.0 1284.0 876.6 1285.3 874.3 1287.3 869.7 1289.9 866.1 1292.3 869.7 1294.6 872.7 1297.2 873.4 1298.5 872.4 1300.5 867.7 1302.5 867.1 1305.1 866.1 1306.4 869.1 1307.7 874.7 1309.1 872.7 1311.7 873.4 1313.7 863.8 1315.0 859.8 1316.6 863.1 1318.3 863.5 1319.9 860.2 1321.6 865.8 1323.6 867.1 1325.9 870.7 1327.5 865.1 1329.5 862.5 1332.1 857.9 1335.4 851.9 1337.7 862.5 1339.1 854.6 1340.4 849.3 1341.4 857.9" stroke="#000" stroke-width="1.5"/><path d="M123.7 514.4 124.7 227.7 126.5 17.3 128.8 -78.1 130.6 -72.8 131.8 -56.6 133.6 43.7 134.7 91.2 135.9 85.8 137.1 70.1 137.7 80.4 138.9 112.2 140.6 144.0 142.4 165.0 143.6 201.8 144.8 144.0 146.5 133.3 148.3 70.1 150.1 -9.2 151.6 -43.6 153.0 -25.3 154.2 48.6 155.4 175.4 156.6 290.4 158.5 492.0 159.0 545.6 161.5 640.0 164.0 705.0 166.7 729.5 169.2 759.0 171.1 800.0 172.1 800.0 174.3 818.4 176.5 828.7 179.5 838.3 181.7 847.2 183.9 857.5 185.0 859.7 186.8 854.5 189.1 853.1 192.4 847.5 195.7 850.8 198.6 853.8 201.6 855.3 204.5 854.5 208.2 848.6 210.4 851.6 213.4 856.7 216.3 859.7 218.5 853.1 221.5 847.2 222.6 843.8 224.4 847.5 227.4 845.7 230.3 840.2 236.2 837.6 238.1 832.4 240.0 833.4 240.6 833.9 243.6 825.8 244.1 820.0 245.8 811.1 247.5 800.4 248.0 802.9 250.3 807.9 254.0 830.0 256.5 871.5 260.1 820.0 263.3 774.3 264.3 770.6 268.0 738.9 269.9 744.5 271.7 741.7 273.6 747.3 277.3 724.9 279.2 738.9 281.0 735.1 282.9 746.3 285.7 711.8 286.6 714.6 289.4 703.4 290.4 707.2 294.1 726.8 296.0 724.9 300.6 698.8 303.4 704.4 305.3 703.4 310.9 660.5 311.8 660.5 314.6 674.5 316.5 693.2 320.2 711.8 322.1 699.7 325.8 696.9 329.6 718.4 332.4 737.0 336.1 750.1 337.0 751.9 341.5 769.8 346.5 795.3 349.5 835.4 354.8 817.7 356.5 827.2 358.9 862.5 360.7 872.0 364.2 862.5 367.1 854.9 369.5 856.1 372.5 862.5 377.2 868.4 381.9 874.3 386.6 879.1 390.1 877.9 393.7 877.3 398.4 874.3 401.9 879.1 406.7 884.4 412.5 885.5 417.3 886.7 422.0 888.5 425.0 889.7 426.7 889.1 427.5 888.4 430.0 887.3 432.5 885.9 435.0 887.6 437.5 890.1 440.0 891.0 442.9 889.3 446.3 890.5 448.8 888.4 451.7 885.9 453.8 884.7 455.9 885.1 459.6 890.1 463.8 886.4 466.7 887.6 469.2 889.7 472.6 886.4 475.1 886.4 478.4 887.2 481.8 888.9 484.7 891.0 488.4 887.6 491.8 884.3 494.3 886.8 497.6 892.2 500.1 893.0 503.5 887.6 506.4 884.3 509.3 889.3 513.5 894.3 514.7 892.2 517.7 889.3 519.3 886.4 521.8 885.1 522.5 885.1 525.0 886.8 527.9 893.0 530.9 890.1 534.6 886.8 537.5 891.0 540.9 893.0 544.2 891.4 546.7 891.4 549.2 889.7 551.7 890.1 554.2 891.0 555.9 889.7 559.2 891.4 562.6 892.2 566.7 891.8 570.1 889.3 572.6 887.2 574.7 888.4 576.8 892.6 580.1 895.5 582.6 891.0 584.7 890.1 588.4 886.4 591.0 888.4 593.5 893.5 595.5 897.6 599.3 896.4 601.4 893.5 603.5 893.5 606.8 895.1 610.2 893.9 613.5 893.5 615.0 893.5 616.8 892.2 618.3 891.8 621.7 893.0 626.7 894.3 630.4 893.0 632.9 894.7 635.9 896.4 640.0 897.6 643.0 898.5 645.9 896.8 650.1 896.4 654.2 896.4 657.6 897.6 660.5 899.3 663.4 901.4 665.9 900.1 668.4 896.0 671.8 893.0 674.3 894.3 676.8 895.5 680.1 894.7 683.4 893.5 688.5 891.8 692.6 893.5 695.1 897.2 697.6 898.5 699.7 897.6 701.8 894.7 704.7 896.0 707.7 898.5 710.0 897.6 711.8 896.8 714.2 896.4 718.3 898.0 722.5 900.1 726.7 901.0 731.7 900.1 735.0 898.0 738.8 894.7 741.7 896.8 745.1 900.1 749.2 900.1 753.4 896.8 756.7 894.7 760.1 894.3 763.4 897.6 765.9 900.1 768.4 898.4 770.9 897.2 773.4 898.4 776.8 899.7 779.3 898.0 781.8 896.4 784.3 897.2 786.8 896.8 789.3 897.6 791.8 899.3 795.1 897.6 798.5 898.9 801.0 898.9 804.3 895.9 806.7 898.0 809.2 901.0 810.8 901.4 812.5 899.3 815.0 900.1 817.5 901.4 820.9 901.8 824.2 899.3 826.7 897.2 829.2 897.6 831.3 897.2 834.2 894.7 836.3 895.5 839.2 898.0 841.7 898.0 843.8 900.1 846.3 902.6 849.2 899.7 852.2 897.6 855.1 898.9 858.4 895.5 860.9 897.2 864.3 899.7 867.6 898.9 870.1 901.0 872.6 901.4 875.1 898.9 877.6 895.1 879.7 896.8 883.5 894.3 886.8 893.4 889.3 896.8 891.8 900.1 895.2 903.0 897.7 903.9 900.0 897.4 902.7 894.1 906.6 895.4 910.6 891.4 913.9 890.7 915.9 897.4 919.2 900.0 921.9 896.7 926.5 898.0 929.8 894.1 935.1 892.7 939.8 897.4 943.8 895.4 948.4 889.4 953.1 888.1 958.4 888.1 961.7 889.4 966.3 880.1 969.0 883.4 972.3 889.4 974.3 888.8 977.6 892.7 980.9 892.7 983.6 886.1 986.9 878.8 991.5 886.1 994.2 890.7 998.1 888.8 998.8 886.3 1004.1 881.8 1008.7 877.2 1012.5 878.0 1016.3 882.5 1020.9 887.1 1023.2 888.6 1026.2 883.3 1030.0 881.0 1034.6 884.8 1039.1 892.4 1046.0 884.8 1049.8 888.6 1053.6 885.6 1057.4 887.1 1060.4 886.3 1065.0 892.4 1071.1 884.8 1074.1 886.3 1080.2 878.7 1083.3 880.2 1087.1 887.9 1089.4 892.4 1090.0 892.7 1092.2 891.3 1095.5 881.8 1097.3 884.0 1098.1 883.2 1100.3 891.3 1103.2 884.7 1105.4 880.3 1107.6 883.2 1109.4 885.4 1111.2 889.5 1113.4 884.0 1117.1 882.1 1119.3 884.0 1121.5 886.2 1123.3 886.9 1125.5 891.3 1128.1 889.8 1130.3 888.0 1132.5 883.2 1134.0 885.8 1136.2 884.7 1138.4 886.9 1142.0 875.9 1144.9 876.6 1147.1 875.9 1148.6 878.8 1149.3 873.7 1151.5 875.9 1153.4 871.5 1154.5 870.8 1155.2 874.8 1156.3 870.8 1157.8 873.0 1159.2 881.0 1160.7 883.2 1162.5 884.7 1164.7 878.8 1166.2 876.6 1167.7 879.6 1169.1 877.0 1170.6 875.2 1172.8 866.4 1174.2 864.9 1176.1 869.3 1177.9 876.6 1180.5 884.7 1182.3 878.1 1184.5 869.3 1186.3 857.6 1187.8 860.6 1188.2 862.0 1189.1 865.4 1190.2 867.5 1192.2 878.8 1193.6 874.3 1195.7 870.2 1197.0 865.4 1198.8 868.2 1200.8 869.5 1202.9 875.0 1204.3 871.6 1206.3 873.0 1208.7 870.2 1210.5 873.0 1211.5 869.5 1212.9 872.3 1215.3 872.3 1216.3 868.2 1218.7 864.0 1219.7 865.4 1220.8 862.0 1222.5 866.1 1225.6 863.7 1226.6 869.5 1228.0 872.3 1229.4 876.7 1232.5 875.0 1233.8 876.4 1235.6 872.3 1238.0 876.4 1238.7 875.7 1239.7 867.5 1241.4 868.8 1243.1 870.2 1244.5 866.1 1246.2 868.2 1247.6 863.3 1249.3 860.6 1251.7 859.2 1253.1 866.1 1254.1 868.2 1255.5 865.7 1257.9 870.9 1259.6 868.1 1262.3 865.1 1263.4 862.6 1263.9 861.2 1266.2 856.5 1267.2 858.8 1269.5 854.6 1272.1 857.2 1274.1 851.9 1276.1 850.9 1278.1 844.0 1280.1 848.6 1282.0 852.6 1284.0 856.5 1285.7 850.9 1286.3 851.3 1287.6 841.4 1289.6 835.4 1291.3 840.1 1292.3 839.7 1293.2 844.7 1294.9 851.3 1297.9 848.6 1299.2 844.0 1301.2 838.4 1303.5 842.7 1304.8 842.0 1306.1 848.0 1307.7 861.2 1309.1 858.5 1311.7 858.8 1313.0 849.3 1314.7 835.4 1315.7 834.8 1317.3 838.1 1318.6 837.4 1319.9 829.5 1320.9 834.8 1322.6 839.4 1323.9 841.4 1325.9 847.3 1326.9 846.0 1328.2 836.8 1329.5 836.1 1330.8 828.2 1334.1 823.9 1336.1 825.5 1337.4 830.8 1337.7 836.8 1338.4 828.2 1340.1 820.3 1340.7 834.8" stroke="#999" stroke-width="1.5"/><path d="M123.7 147.1 124.3 -717.2 124.8 -717.2 125.4 -161.9 129.2 -602.1 131.3 -510.3 133.0 -365.2 133.6 -247.0 134.7 -141.3 135.3 -83.1 136.5 -78.1 137.7 -135.9 138.3 -88.4 139.5 70.1 140.6 101.5 141.8 96.5 143.6 17.3 145.4 -141.3 146.5 -247.0 147.0 -297.6 148.6 -302.5 149.7 -418.5 150.8 -384.4 151.9 -382.2 153.5 -268.5 155.4 -141.3 156.6 17.3 157.7 175.4 158.3 290.4 159.6 504.5 161.2 626.0 163.5 710.0 164.7 739.3 167.4 684.6 170.6 724.6 172.1 749.0 173.6 800.0 175.1 801.5 177.3 816.9 179.5 831.0 181.7 845.7 183.9 833.9 187.6 826.5 190.5 842.0 193.5 844.2 197.5 825.1 200.1 829.5 203.1 837.6 206.0 819.9 209.0 825.1 212.6 842.0 214.1 833.9 216.3 836.8 218.9 819.2 220.7 831.0 223.0 825.8 224.8 831.7 227.0 830.2 228.5 816.9 229.6 816.2 232.5 802.9 234.0 814.0 236.2 804.4 240.0 806.0 241.4 808.1 241.9 807.0 243.2 800.0 247.5 763.1 249.3 767.8 251.2 766.9 252.1 770.6 255.5 820.0 257.5 837.5 259.7 742.0 261.3 727.5 262.9 631.5 263.3 612.0 265.9 485.3 267.6 406.4 268.4 432.9 270.1 384.0 271.7 365.2 273.4 361.7 275.1 320.4 275.6 268.1 277.1 247.0 278.6 256.0 280.7 172.2 283.0 196.4 285.5 128.3 287.9 106.4 288.9 112.7 290.4 97.4 291.8 136.8 293.8 158.8 296.3 139.1 298.2 90.7 300.7 62.0 303.1 68.8 304.6 53.5 307.1 -47.7 309.5 -122.5 311.0 -122.5 312.0 -126.9 313.9 -65.6 315.9 9.2 318.9 71.0 320.8 49.1 322.6 29.4 324.7 57.6 326.2 51.3 328.2 106.4 330.1 119.4 332.6 172.2 334.6 189.7 336.5 242.5 337.7 268.1 340.2 358.1 342.7 447.6 345.3 537.7 349.1 649.8 350.9 690.6 352.5 680.4 354.3 685.5 355.5 703.4 356.8 744.2 358.3 800.0 360.1 818.9 360.7 839.0 362.4 840.1 364.2 829.5 366.6 830.1 368.9 833.1 370.7 841.3 372.5 846.6 374.2 841.3 376.6 839.6 378.3 841.3 380.7 841.3 383.1 846.0 385.4 853.1 387.2 860.8 389.6 861.4 392.5 857.8 394.3 859.0 396.6 854.9 400.2 854.9 402.5 864.9 405.5 868.4 407.8 869.6 410.2 875.5 412.5 869.6 414.9 867.3 417.9 868.4 420.2 877.9 422.0 875.5 424.3 877.9 425.0 877.6 426.7 878.0 429.2 875.1 430.0 873.2 431.3 870.5 433.3 870.1 435.0 875.1 437.1 880.1 440.0 877.6 442.5 867.6 445.0 866.7 447.5 868.8 449.6 872.2 451.3 872.6 454.6 861.7 457.6 863.8 460.1 870.9 463.4 858.0 466.7 856.7 469.2 863.8 471.7 858.8 475.1 859.2 476.8 865.9 479.3 866.7 480.5 865.5 482.6 866.3 484.3 871.8 486.4 873.0 488.4 861.7 491.8 845.5 493.4 845.9 496.0 850.1 498.5 856.7 500.5 858.4 503.0 855.1 504.3 850.9 505.6 850.5 506.4 843.8 508.5 850.1 510.1 855.1 513.1 870.1 514.7 861.7 516.8 860.9 518.5 856.7 519.7 848.4 520.0 848.4 520.6 849.2 521.7 844.2 523.3 847.5 523.9 848.4 525.4 856.7 527.5 862.2 530.9 856.7 534.6 849.6 536.3 851.7 539.2 863.4 541.7 872.6 544.2 870.1 546.7 873.0 549.2 865.9 550.5 865.1 553.0 853.4 554.6 856.3 556.3 851.3 558.0 857.6 560.5 860.9 561.7 860.9 562.6 865.9 565.1 857.6 566.3 852.6 567.6 853.4 568.4 848.0 570.5 851.3 571.3 850.1 573.4 848.4 574.7 849.2 576.8 860.5 578.4 862.6 580.1 869.7 582.6 855.1 584.3 850.9 587.6 836.3 589.3 840.0 591.4 847.5 593.5 862.6 595.5 870.1 596.8 868.4 598.5 870.9 600.6 874.7 601.8 875.1 603.1 879.3 604.7 873.8 606.4 874.3 608.5 872.2 610.2 871.3 611.0 872.2 612.7 868.0 614.3 869.2 615.0 870.1 617.1 872.2 619.6 867.6 621.3 869.2 622.9 868.0 624.2 870.9 625.9 869.2 627.5 868.4 628.8 865.1 630.4 860.9 632.9 864.2 635.0 872.6 636.7 883.4 638.4 883.4 640.0 883.9 642.1 880.5 644.6 883.0 647.1 881.8 649.2 880.1 651.7 865.5 653.8 870.9 655.5 872.6 657.6 885.1 659.7 888.9 661.3 886.8 663.4 892.2 665.1 885.1 667.6 877.6 669.7 863.4 672.6 864.7 675.1 873.0 676.8 873.0 678.0 865.5 680.1 868.0 682.6 865.9 683.9 873.8 685.1 872.6 686.8 868.4 688.5 867.6 689.7 863.8 692.2 865.5 693.9 871.8 695.6 878.8 696.8 877.2 698.5 877.2 701.8 868.0 703.5 872.6 704.7 873.0 707.7 881.4 709.3 876.8 711.0 876.8 711.7 875.9 713.1 874.7 713.3 874.2 715.0 879.2 717.5 885.1 720.0 886.8 722.5 888.0 724.6 890.9 726.7 893.4 728.4 887.6 730.5 881.3 732.1 880.1 734.6 873.0 736.7 872.6 738.8 870.5 740.5 875.5 742.6 879.2 743.8 875.1 745.1 878.4 747.1 878.0 749.2 883.4 750.9 887.2 753.4 885.1 754.7 883.4 755.9 879.2 758.0 880.5 760.1 873.8 761.8 877.2 763.4 878.4 766.3 888.0 768.8 883.8 771.4 878.4 773.4 883.0 775.5 887.6 777.2 890.9 779.3 883.4 781.8 874.2 783.9 877.6 785.5 868.0 787.6 872.2 789.3 875.1 790.1 873.8 791.4 884.3 792.6 884.3 794.7 872.2 796.8 872.6 798.5 876.7 800.2 883.4 801.8 890.5 803.5 883.4 805.0 881.8 805.6 878.4 806.3 878.8 806.8 880.1 807.1 880.1 808.1 873.8 808.3 873.8 809.2 880.1 810.8 878.8 812.5 875.9 814.2 881.3 815.9 878.0 817.5 882.2 819.6 874.2 820.9 875.5 823.4 870.5 825.0 873.0 827.1 875.9 828.8 883.4 831.7 875.1 834.2 864.2 836.7 868.0 838.0 864.2 839.2 867.1 840.5 870.9 843.0 868.8 844.2 879.2 846.3 884.3 848.8 882.2 850.5 870.9 852.2 863.0 853.8 865.1 855.5 869.2 856.8 865.9 858.0 865.9 859.3 870.1 861.3 870.1 863.4 872.6 864.7 875.1 865.5 873.4 867.2 879.2 868.4 881.8 869.3 887.6 870.9 887.6 872.2 882.2 873.4 880.9 875.1 873.0 877.2 870.9 878.9 875.1 880.5 885.1 882.6 870.9 884.3 856.7 886.8 845.4 888.1 850.9 890.1 866.7 892.2 871.7 893.5 877.6 894.7 882.6 896.0 885.1 897.7 889.3 898.9 884.3 899.7 878.0 900.0 880.8 901.4 878.4 903.3 872.8 905.3 874.8 908.0 873.5 910.6 862.2 913.9 864.9 916.6 877.5 919.9 888.1 923.2 878.1 925.9 859.6 929.2 866.9 931.8 863.6 933.8 864.9 935.8 855.6 938.5 866.2 941.1 856.3 942.4 859.6 944.4 852.3 947.1 859.6 950.4 844.3 953.7 831.7 955.7 836.4 957.7 836.4 959.7 843.7 961.0 843.0 963.7 805.2 965.0 801.2 967.0 794.6 969.0 811.8 970.3 826.4 971.6 825.8 972.9 833.7 974.9 825.8 977.6 845.0 979.6 833.7 980.9 840.3 984.9 823.8 986.9 810.5 988.9 811.2 990.8 819.8 993.5 843.7 995.5 831.7 997.3 823.9 998.1 820.5 1000.3 817.8 1002.6 822.4 1004.9 813.3 1007.2 808.7 1009.5 802.6 1011.0 805.7 1012.0 789.7 1013.3 802.6 1015.5 801.1 1017.8 823.9 1020.9 834.6 1023.2 817.8 1023.9 829.3 1026.2 810.2 1027.7 810.2 1029.2 818.6 1031.5 827.0 1035.3 839.1 1039.1 865.0 1042.2 845.2 1045.2 812.5 1048.3 828.5 1051.3 852.8 1052.8 851.3 1055.1 836.1 1056.6 837.6 1058.9 842.2 1061.2 858.9 1062.7 854.4 1065.0 866.5 1067.3 851.3 1071.1 823.9 1072.6 833.1 1075.7 825.4 1078.0 830.0 1079.5 826.2 1081.8 837.6 1083.3 830.8 1084.8 840.7 1087.1 830.8 1089.4 848.3 1090.0 842.6 1090.9 845.2 1092.1 855.4 1092.4 855.9 1093.6 856.1 1095.7 840.4 1097.1 839.0 1097.8 816.2 1100.0 825.5 1102.1 814.1 1103.5 819.8 1104.3 811.9 1105.7 812.6 1107.1 832.6 1108.5 838.3 1110.7 851.1 1112.8 841.1 1115.7 811.2 1117.8 816.9 1119.9 819.8 1122.1 829.7 1123.1 824.8 1124.9 834.0 1126.3 834.0 1127.8 826.2 1129.9 821.2 1132.0 814.8 1133.5 819.8 1135.6 811.9 1137.7 797.7 1139.9 777.0 1142.0 773.4 1143.4 789.8 1144.9 787.0 1146.3 788.4 1147.7 799.1 1149.2 774.8 1151.0 780.1 1152.7 756.2 1154.5 773.0 1155.7 786.3 1156.8 773.0 1159.8 831.3 1162.4 831.3 1166.0 794.2 1167.7 806.6 1170.4 803.0 1174.8 768.6 1177.5 783.6 1180.1 815.4 1182.8 785.4 1185.8 729.6 1186.3 729.7 1188.1 759.4 1188.9 764.2 1189.7 764.2 1192.1 796.4 1193.6 773.6 1195.2 772.0 1196.0 777.5 1197.6 760.2 1199.1 761.0 1200.7 763.4 1202.3 765.7 1203.1 773.6 1203.9 756.3 1206.2 748.4 1208.6 728.0 1210.1 740.6 1210.9 739.0 1213.3 757.1 1214.9 755.5 1216.4 742.2 1217.2 750.0 1218.8 744.5 1221.1 731.2 1221.9 758.7 1224.0 734.3 1225.9 746.9 1227.4 759.4 1229.0 782.2 1230.6 768.9 1232.2 770.5 1233.7 772.8 1235.0 760.2 1236.1 765.7 1237.7 779.9 1239.2 750.0 1240.8 718.6 1243.9 717.0 1244.7 711.5 1246.3 726.4 1247.9 726.4 1249.4 709.2 1251.0 710.7 1252.6 728.0 1254.2 762.6 1255.7 772.0 1257.3 765.7 1258.1 765.7 1259.7 728.0 1261.8 703.3 1262.7 712.1 1263.6 712.3 1264.4 705.0 1266.2 697.9 1267.4 705.9 1269.7 667.0 1272.4 691.8 1273.8 690.0 1275.9 717.4 1278.2 672.3 1279.4 684.7 1281.2 686.5 1283.9 716.5 1285.6 684.7 1286.9 682.9 1289.2 620.1 1290.4 622.8 1291.8 654.6 1292.7 641.4 1295.4 684.7 1296.2 689.1 1298.0 684.7 1299.8 651.1 1301.6 652.0 1305.1 668.8 1308.1 714.7 1309.5 705.9 1311.3 710.3 1315.2 626.3 1317.5 647.6 1318.3 647.6 1320.1 618.4 1321.9 645.8 1323.7 647.6 1325.8 694.4 1328.6 658.2 1330.7 622.8 1332.5 589.2 1333.4 598.0 1335.1 557.4 1336.4 566.2 1337.8 609.5 1339.6 580.4 1340.5 578.6 1341.7 652.9 1342.4 530.6 1343.1 1101.2" stroke="#1a58b8" stroke-width="1.5"/></g>
<rect x="123.7" y="20.7" width="1220.1" height="375.3" fill="none" stroke="#222" stroke-width="1.1"/><path d="M135.25 396.0v-4M135.25 20.7v4M155.67 396.0v-4M155.67 20.7v4M176.09 396.0v-4M176.09 20.7v4M196.51 396.0v-4M196.51 20.7v4M216.93 396.0v-4M216.93 20.7v4M237.36 396.0v-4M237.36 20.7v4M257.78 396.0v-4M257.78 20.7v4M278.20 396.0v-8M278.20 20.7v8M298.62 396.0v-4M298.62 20.7v4M319.04 396.0v-4M319.04 20.7v4M339.47 396.0v-4M339.47 20.7v4M359.89 396.0v-4M359.89 20.7v4M380.31 396.0v-4M380.31 20.7v4M400.73 396.0v-4M400.73 20.7v4M421.15 396.0v-4M421.15 20.7v4M441.58 396.0v-4M441.58 20.7v4M462.00 396.0v-4M462.00 20.7v4M482.42 396.0v-8M482.42 20.7v8M502.84 396.0v-4M502.84 20.7v4M523.26 396.0v-4M523.26 20.7v4M543.69 396.0v-4M543.69 20.7v4M564.11 396.0v-4M564.11 20.7v4M584.53 396.0v-4M584.53 20.7v4M604.95 396.0v-4M604.95 20.7v4M625.37 396.0v-4M625.37 20.7v4M645.80 396.0v-4M645.80 20.7v4M666.22 396.0v-4M666.22 20.7v4M686.64 396.0v-8M686.64 20.7v8M707.06 396.0v-4M707.06 20.7v4M727.48 396.0v-4M727.48 20.7v4M747.91 396.0v-4M747.91 20.7v4M768.33 396.0v-4M768.33 20.7v4M788.75 396.0v-4M788.75 20.7v4M809.17 396.0v-4M809.17 20.7v4M829.59 396.0v-4M829.59 20.7v4M850.02 396.0v-4M850.02 20.7v4M870.44 396.0v-4M870.44 20.7v4M890.86 396.0v-8M890.86 20.7v8M911.28 396.0v-4M911.28 20.7v4M931.70 396.0v-4M931.70 20.7v4M952.13 396.0v-4M952.13 20.7v4M972.55 396.0v-4M972.55 20.7v4M992.97 396.0v-4M992.97 20.7v4M1013.39 396.0v-4M1013.39 20.7v4M1033.81 396.0v-4M1033.81 20.7v4M1054.24 396.0v-4M1054.24 20.7v4M1074.66 396.0v-4M1074.66 20.7v4M1095.08 396.0v-8M1095.08 20.7v8M1115.50 396.0v-4M1115.50 20.7v4M1135.92 396.0v-4M1135.92 20.7v4M1156.35 396.0v-4M1156.35 20.7v4M1176.77 396.0v-4M1176.77 20.7v4M1197.19 396.0v-4M1197.19 20.7v4M1217.61 396.0v-4M1217.61 20.7v4M1238.03 396.0v-4M1238.03 20.7v4M1258.46 396.0v-4M1258.46 20.7v4M1278.88 396.0v-4M1278.88 20.7v4M1299.30 396.0v-8M1299.30 20.7v8M1319.72 396.0v-4M1319.72 20.7v4M1340.14 396.0v-4M1340.14 20.7v4M123.7 380.80h24.4M1343.8 380.80h-24.4M123.7 364.04h12.2M1343.8 364.04h-12.2M123.7 347.27h12.2M1343.8 347.27h-12.2M123.7 330.50h12.2M1343.8 330.50h-12.2M123.7 313.74h24.4M1343.8 313.74h-24.4M123.7 296.98h12.2M1343.8 296.98h-12.2M123.7 280.21h12.2M1343.8 280.21h-12.2M123.7 263.44h12.2M1343.8 263.44h-12.2M123.7 246.68h24.4M1343.8 246.68h-24.4M123.7 229.91h12.2M1343.8 229.91h-12.2M123.7 213.15h12.2M1343.8 213.15h-12.2M123.7 196.38h12.2M1343.8 196.38h-12.2M123.7 179.62h24.4M1343.8 179.62h-24.4M123.7 162.85h12.2M1343.8 162.85h-12.2M123.7 146.09h12.2M1343.8 146.09h-12.2M123.7 129.32h12.2M1343.8 129.32h-12.2M123.7 112.56h24.4M1343.8 112.56h-24.4M123.7 95.80h12.2M1343.8 95.80h-12.2M123.7 79.03h12.2M1343.8 79.03h-12.2M123.7 62.26h12.2M1343.8 62.26h-12.2M123.7 45.50h24.4M1343.8 45.50h-24.4M123.7 28.74h12.2M1343.8 28.74h-12.2" stroke="#222" stroke-width="1.1" fill="none"/><text transform="translate(278.2,434.6) scale(1,1.045)" class="tl" text-anchor="middle">1200</text><text transform="translate(482.4,434.6) scale(1,1.045)" class="tl" text-anchor="middle">1300</text><text transform="translate(686.6,434.6) scale(1,1.045)" class="tl" text-anchor="middle">1400</text><text transform="translate(890.9,434.6) scale(1,1.045)" class="tl" text-anchor="middle">1500</text><text transform="translate(1095.1,434.6) scale(1,1.045)" class="tl" text-anchor="middle">1600</text><text transform="translate(1299.3,434.6) scale(1,1.045)" class="tl" text-anchor="middle">1700</text><text transform="translate(115,392.2) scale(1,1.045)" class="tl" text-anchor="end">0</text><text transform="translate(115,325.1) scale(1,1.045)" class="tl" text-anchor="end">20</text><text transform="translate(115,258.1) scale(1,1.045)" class="tl" text-anchor="end">40</text><text transform="translate(115,191.0) scale(1,1.045)" class="tl" text-anchor="end">60</text><text transform="translate(115,124.0) scale(1,1.045)" class="tl" text-anchor="end">80</text><text transform="translate(115,56.9) scale(1,1.045)" class="tl" text-anchor="end">100</text>
<rect x="123.7" y="545.6" width="1220.1" height="375.4" fill="none" stroke="#222" stroke-width="1.1"/><path d="M135.25 921.0v-4M135.25 545.6v4M155.67 921.0v-4M155.67 545.6v4M176.09 921.0v-4M176.09 545.6v4M196.51 921.0v-4M196.51 545.6v4M216.93 921.0v-4M216.93 545.6v4M237.36 921.0v-4M237.36 545.6v4M257.78 921.0v-4M257.78 545.6v4M278.20 921.0v-8M278.20 545.6v8M298.62 921.0v-4M298.62 545.6v4M319.04 921.0v-4M319.04 545.6v4M339.47 921.0v-4M339.47 545.6v4M359.89 921.0v-4M359.89 545.6v4M380.31 921.0v-4M380.31 545.6v4M400.73 921.0v-4M400.73 545.6v4M421.15 921.0v-4M421.15 545.6v4M441.58 921.0v-4M441.58 545.6v4M462.00 921.0v-4M462.00 545.6v4M482.42 921.0v-8M482.42 545.6v8M502.84 921.0v-4M502.84 545.6v4M523.26 921.0v-4M523.26 545.6v4M543.69 921.0v-4M543.69 545.6v4M564.11 921.0v-4M564.11 545.6v4M584.53 921.0v-4M584.53 545.6v4M604.95 921.0v-4M604.95 545.6v4M625.37 921.0v-4M625.37 545.6v4M645.80 921.0v-4M645.80 545.6v4M666.22 921.0v-4M666.22 545.6v4M686.64 921.0v-8M686.64 545.6v8M707.06 921.0v-4M707.06 545.6v4M727.48 921.0v-4M727.48 545.6v4M747.91 921.0v-4M747.91 545.6v4M768.33 921.0v-4M768.33 545.6v4M788.75 921.0v-4M788.75 545.6v4M809.17 921.0v-4M809.17 545.6v4M829.59 921.0v-4M829.59 545.6v4M850.02 921.0v-4M850.02 545.6v4M870.44 921.0v-4M870.44 545.6v4M890.86 921.0v-8M890.86 545.6v8M911.28 921.0v-4M911.28 545.6v4M931.70 921.0v-4M931.70 545.6v4M952.13 921.0v-4M952.13 545.6v4M972.55 921.0v-4M972.55 545.6v4M992.97 921.0v-4M992.97 545.6v4M1013.39 921.0v-4M1013.39 545.6v4M1033.81 921.0v-4M1033.81 545.6v4M1054.24 921.0v-4M1054.24 545.6v4M1074.66 921.0v-4M1074.66 545.6v4M1095.08 921.0v-8M1095.08 545.6v8M1115.50 921.0v-4M1115.50 545.6v4M1135.92 921.0v-4M1135.92 545.6v4M1156.35 921.0v-4M1156.35 545.6v4M1176.77 921.0v-4M1176.77 545.6v4M1197.19 921.0v-4M1197.19 545.6v4M1217.61 921.0v-4M1217.61 545.6v4M1238.03 921.0v-4M1238.03 545.6v4M1258.46 921.0v-4M1258.46 545.6v4M1278.88 921.0v-4M1278.88 545.6v4M1299.30 921.0v-8M1299.30 545.6v8M1319.72 921.0v-4M1319.72 545.6v4M1340.14 921.0v-4M1340.14 545.6v4M123.7 921.00h24.4M1343.8 921.00h-24.4M123.7 905.98h12.2M1343.8 905.98h-12.2M123.7 890.97h12.2M1343.8 890.97h-12.2M123.7 875.95h12.2M1343.8 875.95h-12.2M123.7 860.94h12.2M1343.8 860.94h-12.2M123.7 845.92h24.4M1343.8 845.92h-24.4M123.7 830.90h12.2M1343.8 830.90h-12.2M123.7 815.89h12.2M1343.8 815.89h-12.2M123.7 800.87h12.2M1343.8 800.87h-12.2M123.7 785.86h12.2M1343.8 785.86h-12.2M123.7 770.84h24.4M1343.8 770.84h-24.4M123.7 755.82h12.2M1343.8 755.82h-12.2M123.7 740.81h12.2M1343.8 740.81h-12.2M123.7 725.79h12.2M1343.8 725.79h-12.2M123.7 710.78h12.2M1343.8 710.78h-12.2M123.7 695.76h24.4M1343.8 695.76h-24.4M123.7 680.74h12.2M1343.8 680.74h-12.2M123.7 665.73h12.2M1343.8 665.73h-12.2M123.7 650.71h12.2M1343.8 650.71h-12.2M123.7 635.70h12.2M1343.8 635.70h-12.2M123.7 620.68h24.4M1343.8 620.68h-24.4M123.7 605.66h12.2M1343.8 605.66h-12.2M123.7 590.65h12.2M1343.8 590.65h-12.2M123.7 575.63h12.2M1343.8 575.63h-12.2M123.7 560.62h12.2M1343.8 560.62h-12.2M123.7 545.60h24.4M1343.8 545.60h-24.4" stroke="#222" stroke-width="1.1" fill="none"/><text transform="translate(278.2,959.6) scale(1,1.045)" class="tl" text-anchor="middle">1200</text><text transform="translate(482.4,959.6) scale(1,1.045)" class="tl" text-anchor="middle">1300</text><text transform="translate(686.6,959.6) scale(1,1.045)" class="tl" text-anchor="middle">1400</text><text transform="translate(890.9,959.6) scale(1,1.045)" class="tl" text-anchor="middle">1500</text><text transform="translate(1095.1,959.6) scale(1,1.045)" class="tl" text-anchor="middle">1600</text><text transform="translate(1299.3,959.6) scale(1,1.045)" class="tl" text-anchor="middle">1700</text><text transform="translate(115,922.4) scale(1,1.045)" class="tl" text-anchor="end">0</text><text transform="translate(115,857.3) scale(1,1.045)" class="tl" text-anchor="end">5</text><text transform="translate(115,782.2) scale(1,1.045)" class="tl" text-anchor="end">10</text><text transform="translate(115,707.2) scale(1,1.045)" class="tl" text-anchor="end">15</text><text transform="translate(115,632.1) scale(1,1.045)" class="tl" text-anchor="end">20</text><text transform="translate(115,564.0) scale(1,1.045)" class="tl" text-anchor="end">25</text>
<text transform="translate(733.6,466.2) scale(1,1.03)" class="tl" text-anchor="middle">Wavelength (Angstrom)</text>
<text transform="translate(733.6,991.1) scale(1,1.03)" class="tl" text-anchor="middle">Wavelength (Angstrom)</text>
<text transform="translate(42.2,208.6) rotate(-90) scale(1,1.03)" class="tl" text-anchor="middle">Flux (R/A)</text>
<text transform="translate(59.3,733.8) rotate(-90) scale(1,1.03)" class="tl" text-anchor="middle">Flux (R/A)</text>
<text transform="translate(821.3,64.9) scale(1,1.05)" class="lg" fill="#000">Average of all 1D spectra</text>
<text transform="translate(821.3,97.2) scale(1,1.05)" class="lg" fill="#999">Average of the 50% most intense 1D spectra</text>
<text transform="translate(821.3,127.8) scale(1,1.05)" class="lg" fill="#0a4fb5">Average of the 10% most intense 1D spectra</text>
</svg>
</body></html>
